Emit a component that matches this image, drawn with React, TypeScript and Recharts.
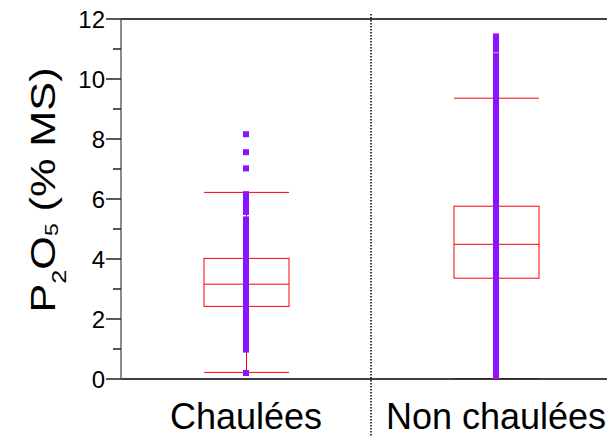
import React from 'react';
import {
  ComposedChart,
  Bar,
  Scatter,
  XAxis,
  YAxis,
  ReferenceLine,
} from 'recharts';

const categories = ['Chaulées', 'Non chaulées'];
const lowWhisker = [0.22, 0];
const q1 = [2.42, 3.36];
const median = [3.16, 4.49];
const q3 = [4.02, 5.76];
const highWhisker = [6.22, 9.36];

const pointsChaulees = [
  0.2, 0.98, 1.1, 1.24, 1.38, 1.5, 1.65, 1.8, 1.92, 2.06, 2.2, 2.33, 2.45, 2.6,
  2.72, 2.85, 2.98, 3.1, 3.22, 3.36, 3.5, 3.62, 3.75, 3.9, 4.02, 4.15, 4.3,
  4.42, 4.56, 4.7, 4.82, 4.95, 5.1, 5.22, 5.32, 5.57, 5.7, 5.84, 5.98, 6.08,
  6.16, 7.02, 7.56, 8.16,
];
const pointsNonChaulees = [
  0, 0.14, 0.3, 0.45, 0.58, 0.74, 0.9, 1.03, 1.2, 1.35, 1.5, 1.66, 1.8, 1.95,
  2.1, 2.24, 2.4, 2.55, 2.7, 2.86, 3.0, 3.15, 3.3, 3.44, 3.6, 3.75, 3.9, 4.05,
  4.2, 4.35, 4.5, 4.65, 4.8, 4.95, 5.1, 5.25, 5.4, 5.56, 5.7, 5.85, 6.0, 6.16,
  6.3, 6.45, 6.6, 6.76, 6.9, 7.05, 7.2, 7.36, 7.5, 7.65, 7.8, 7.95, 8.1, 8.26,
  8.4, 8.55, 8.7, 8.85, 9.0, 9.16, 9.3, 9.45, 9.6, 9.76, 9.9, 10.05, 10.2,
  10.36, 10.5, 10.64, 10.76, 10.98, 11.12, 11.28, 11.42,
];

const yTicks = [0, 1, 2, 3, 4, 5, 6, 7, 8, 9, 10, 11, 12];

const RED = '#FF0000';
const PURPLE = '#8B14FF';
const FONT = 'Liberation Sans, Arial, sans-serif';

const boxData = categories.map((name, i) => ({
  name,
  whisker: [lowWhisker[i], highWhisker[i]],
  lo: lowWhisker[i],
  hi: highWhisker[i],
  q1: q1[i],
  med: median[i],
  q3: q3[i],
}));

const scatterChaulees = pointsChaulees.map((y) => ({ x: 0.5, y }));
const scatterNon = pointsNonChaulees.map((y) => ({ x: 1.5, y }));

const BoxShape = (props: any) => {
  const { x, y, width, height, payload } = props;
  const top = Math.min(y, y + height);
  const bot = Math.max(y, y + height);
  const { lo, hi } = payload;
  const py = (v: number) => bot + ((top - bot) * (v - lo)) / (hi - lo);
  const cx = x + width / 2;
  const yq1 = py(payload.q1);
  const yq3 = py(payload.q3);
  const ym = py(payload.med);
  return (
    <g>
      <line x1={cx} x2={cx} y1={top} y2={yq3} stroke={RED} strokeWidth={1} />
      <line x1={cx} x2={cx} y1={yq1} y2={bot} stroke={RED} strokeWidth={1} />
      <line x1={x} x2={x + width} y1={top} y2={top} stroke={RED} strokeWidth={1} />
      <line x1={x} x2={x + width} y1={bot} y2={bot} stroke={RED} strokeWidth={1} />
      <rect x={x} y={yq3} width={width} height={yq1 - yq3} fill="none" stroke={RED} strokeWidth={1} />
      <line x1={x} x2={x + width} y1={ym} y2={ym} stroke={RED} strokeWidth={1} />
    </g>
  );
};

const PointShape = (props: any) => {
  const { cx, cy } = props;
  return <rect x={cx - 3} y={cy - 3} width={6} height={6} fill={PURPLE} />;
};

const YTick = (props: any) => {
  const { x, y, payload } = props;
  const v = payload.value;
  const axisX = x + 16;
  const major = v % 2 === 0;
  return (
    <g>
      <line
        x1={major ? axisX - 15 : axisX - 8}
        x2={axisX}
        y1={y}
        y2={y}
        stroke="#222"
        strokeWidth={1.5}
      />
      {major && (
        <text
          x={x}
          y={y}
          textAnchor="end"
          dominantBaseline="central"
          fontSize={24}
          fontFamily={FONT}
          fill="#000"
        >
          {v}
        </text>
      )}
    </g>
  );
};

const YLabel = (props: any) => {
  const vb = props.viewBox || { x: 0, y: 19, width: 113, height: 360 };
  const cx = vb.x + 46.7;
  const cy = 190;
  return (
    <text
      transform={`translate(${cx},${cy}) rotate(-90) scale(1.2,1)`}
      x={0}
      y={0}
      textAnchor="middle"
      fontSize={36}
      fontFamily={FONT}
      fill="#000"
    >
      P
      <tspan fontSize={21} dy={11}>2</tspan>
      <tspan dy={-11}>O</tspan>
      <tspan fontSize={19} dy={3.5}>5</tspan>
      <tspan dy={-3.5}> (% MS)</tspan>
    </text>
  );
};

const Separator = (props: any) => {
  const { x1, x2, y1, y2 } = props;
  const t = Math.min(y1, y2);
  const b = Math.max(y1, y2);
  return (
    <line
      x1={x1}
      x2={x2}
      y1={t - 5}
      y2={b + 60}
      stroke="#000"
      strokeWidth={1.5}
      strokeDasharray="1.5 1.5"
    />
  );
};

export default function App() {
  return (
    <div style={{ width: 607, height: 437, marginTop: -8, overflow: 'hidden' }}>
      <ComposedChart
        width={640}
        height={437}
        data={boxData}
        margin={{ top: 19, right: 27, left: 0, bottom: 0 }}
      >
        <XAxis
          xAxisId="c"
          dataKey="name"
          type="category"
          padding={{ left: 0, right: 0 }}
          height={58}
          tickLine={false}
          tickSize={0}
          tickMargin={24}
          axisLine={{ stroke: '#000', strokeWidth: 1.5 }}
          tick={{ fontSize: 36, fill: '#000', fontFamily: FONT }}
          interval={0}
        />
        <XAxis
          xAxisId="n"
          dataKey="x"
          type="number"
          domain={[0, 2]}
          allowDataOverflow
          hide
        />
        <YAxis
          type="number"
          domain={[0, 12]}
          ticks={yTicks}
          interval={0}
          width={113}
          tickLine={false}
          tickSize={15}
          tickMargin={1}
          axisLine={{ stroke: '#666', strokeWidth: 1.5 }}
          tick={<YTick />}
          label={<YLabel />}
          allowDataOverflow
        />
        <ReferenceLine
          xAxisId="n"
          y={12}
          stroke="#000"
          strokeWidth={1.5}
          ifOverflow="visible"
        />
        <ReferenceLine
          xAxisId="n"
          x={1}
          ifOverflow="visible"
          shape={<Separator />}
        />
        <Bar
          xAxisId="c"
          dataKey="whisker"
          barSize={85}
          shape={<BoxShape />}
          isAnimationActive={false}
        />
        <Scatter
          xAxisId="n"
          data={scatterChaulees}
          dataKey="y"
          shape={<PointShape />}
          isAnimationActive={false}
        />
        <Scatter
          xAxisId="n"
          data={scatterNon}
          dataKey="y"
          shape={<PointShape />}
          isAnimationActive={false}
        />
      </ComposedChart>
    </div>
  );
}
